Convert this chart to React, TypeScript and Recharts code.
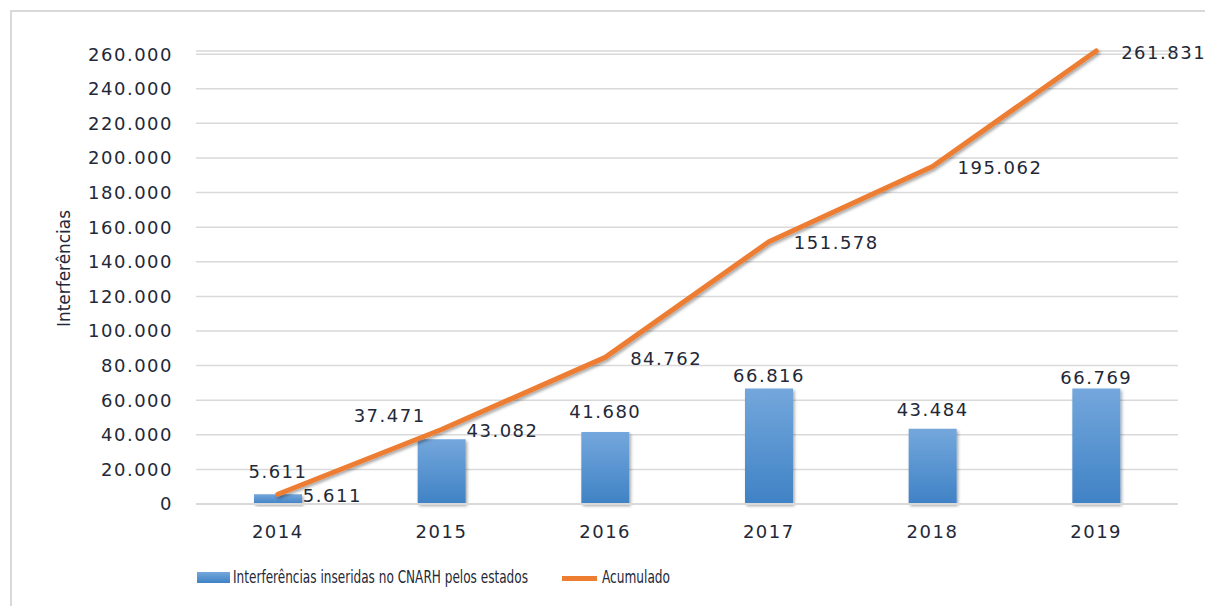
import React from 'react';
import { ComposedChart, Bar, Line, XAxis, YAxis, CartesianGrid, LabelList } from 'recharts';

const years = ['2014', '2015', '2016', '2017', '2018', '2019'];
const insertedByStates = [5611, 37471, 41680, 66816, 43484, 66769];
const accumulated = [5611, 43082, 84762, 151578, 195062, 261831];
const yTicks = [0, 20000, 40000, 60000, 80000, 100000, 120000, 140000, 160000, 180000, 200000, 220000, 240000, 260000];

const seriesBarName = 'Interferências inseridas no CNARH pelos estados';
const seriesLineName = 'Acumulado';
const yTitle = 'Interferências';

const data = years.map((y, i) => ({ year: y, inserted: insertedByStates[i], acc: accumulated[i] }));

// label placement styles (relative to bar top center)
const barLabelShift = [
  { dx: 0, dy: -23 },
  { dx: -52, dy: -24 },
  { dx: 0, dy: -20 },
  { dx: 0, dy: -13 },
  { dx: 0, dy: -19 },
  { dx: 0, dy: -11 },
];

const TEXT = '#232838';
const NUM_FONT = '"DejaVu Sans", Verdana, sans-serif';
const NARROW_FONT = '"Liberation Sans Narrow", "DejaVu Sans Condensed", Roboto, sans-serif';
const SQUEEZE = 0.78;

const fmt = (v: number) => String(v).replace(/\B(?=(\d{3})+(?!\d))/g, '.');

const numStyle = { fontFamily: NUM_FONT, fontSize: 18, letterSpacing: 1.5, fill: TEXT };

const BarLabel = (props: any) => {
  const { x, y, width, value, index } = props;
  const s = barLabelShift[index] || { dx: 0, dy: -18 };
  return (
    <text x={x + width / 2 + s.dx} y={y + s.dy} textAnchor="middle" dominantBaseline="central" style={numStyle}>
      {fmt(value)}
    </text>
  );
};

const LineLabel = (props: any) => {
  const { x, y, value } = props;
  return (
    <text x={x + 25} y={y + 1} textAnchor="start" dominantBaseline="central" style={numStyle}>
      {fmt(value)}
    </text>
  );
};

const YTitle = () => (
  <g transform="translate(64 268.5) rotate(-90) scale(0.85 1)">
    <text
      x={0}
      y={0}
      textAnchor="middle"
      dominantBaseline="central"
      fontFamily={NARROW_FONT}
      fontSize={18}
      fill={TEXT}
      textLength={117 / 0.85}
      lengthAdjust="spacingAndGlyphs"
    >
      {yTitle}
    </text>
  </g>
);

const LegendText = ({ x, y, width, children }: any) => (
  <g transform={`translate(${x} ${y}) scale(${SQUEEZE} 1)`}>
    <text
      x={0}
      y={0}
      dominantBaseline="central"
      fontFamily={NARROW_FONT}
      fontSize={18}
      fill={TEXT}
      textLength={width / SQUEEZE}
      lengthAdjust="spacingAndGlyphs"
    >
      {children}
    </text>
  </g>
);

export default function App() {
  return (
    <div style={{ position: 'absolute', left: 0, top: 0, width: 1205, height: 606, background: '#fff' }}>
      <ComposedChart
        width={1205}
        height={606}
        data={data}
        margin={{ top: 51, right: 27, bottom: 62, left: 0 }}
        barSize={48}
      >
        <defs>
          <linearGradient id="barGrad" x1="0" y1="0" x2="0" y2="1">
            <stop offset="0%" stopColor="#74a7dc" />
            <stop offset="100%" stopColor="#3f82c5" />
          </linearGradient>
          <filter id="shadow" x="-30%" y="-30%" width="160%" height="160%">
            <feDropShadow dx="1.5" dy="2" stdDeviation="1.5" floodColor="#000" floodOpacity="0.35" />
          </filter>
        </defs>
        <CartesianGrid vertical={false} stroke="#d9d9d9" strokeWidth={1.5} />
        <XAxis
          dataKey="year"
          height={40}
          axisLine={{ stroke: '#d9d9d9', strokeWidth: 2 }}
          tickLine={false}
          tickMargin={15}
          tick={numStyle}
          interval={0}
        />
        <YAxis
          width={196}
          domain={[0, 260000]}
          ticks={yTicks}
          interval={0}
          axisLine={false}
          tickLine={false}
          tickMargin={17}
          tick={numStyle}
          tickFormatter={fmt}
          label={{ content: () => <YTitle /> }}
        />
        <Bar dataKey="inserted" name={seriesBarName} fill="url(#barGrad)" filter="url(#shadow)" isAnimationActive={false}>
          <LabelList dataKey="inserted" content={BarLabel} />
        </Bar>
        <Line
          type="linear"
          dataKey="acc"
          name={seriesLineName}
          stroke="#ed7d31"
          strokeWidth={5}
          strokeLinejoin="round"
          strokeLinecap="round"
          dot={false}
          activeDot={false}
          filter="url(#shadow)"
          isAnimationActive={false}
        >
          <LabelList dataKey="acc" content={LineLabel} />
        </Line>
      </ComposedChart>
      <svg width={1205} height={606} style={{ position: 'absolute', left: 0, top: 0, pointerEvents: 'none' }}>
        <defs>
          <linearGradient id="legGrad" x1="0" y1="0" x2="0" y2="1">
            <stop offset="0%" stopColor="#74a7dc" />
            <stop offset="100%" stopColor="#3f82c5" />
          </linearGradient>
        </defs>
        <rect x={11} y={11} width={1210} height={610} fill="none" stroke="#d9d9d9" strokeWidth={2} />
        <rect x={197} y={572} width={33} height={11} fill="url(#legGrad)" />
        <LegendText x={233} y={577} width={295}>{seriesBarName}</LegendText>
        <line x1={562} y1={578.5} x2={597} y2={578.5} stroke="#ed7d31" strokeWidth={5} />
        <LegendText x={602} y={577} width={68}>{seriesLineName}</LegendText>
      </svg>
    </div>
  );
}
